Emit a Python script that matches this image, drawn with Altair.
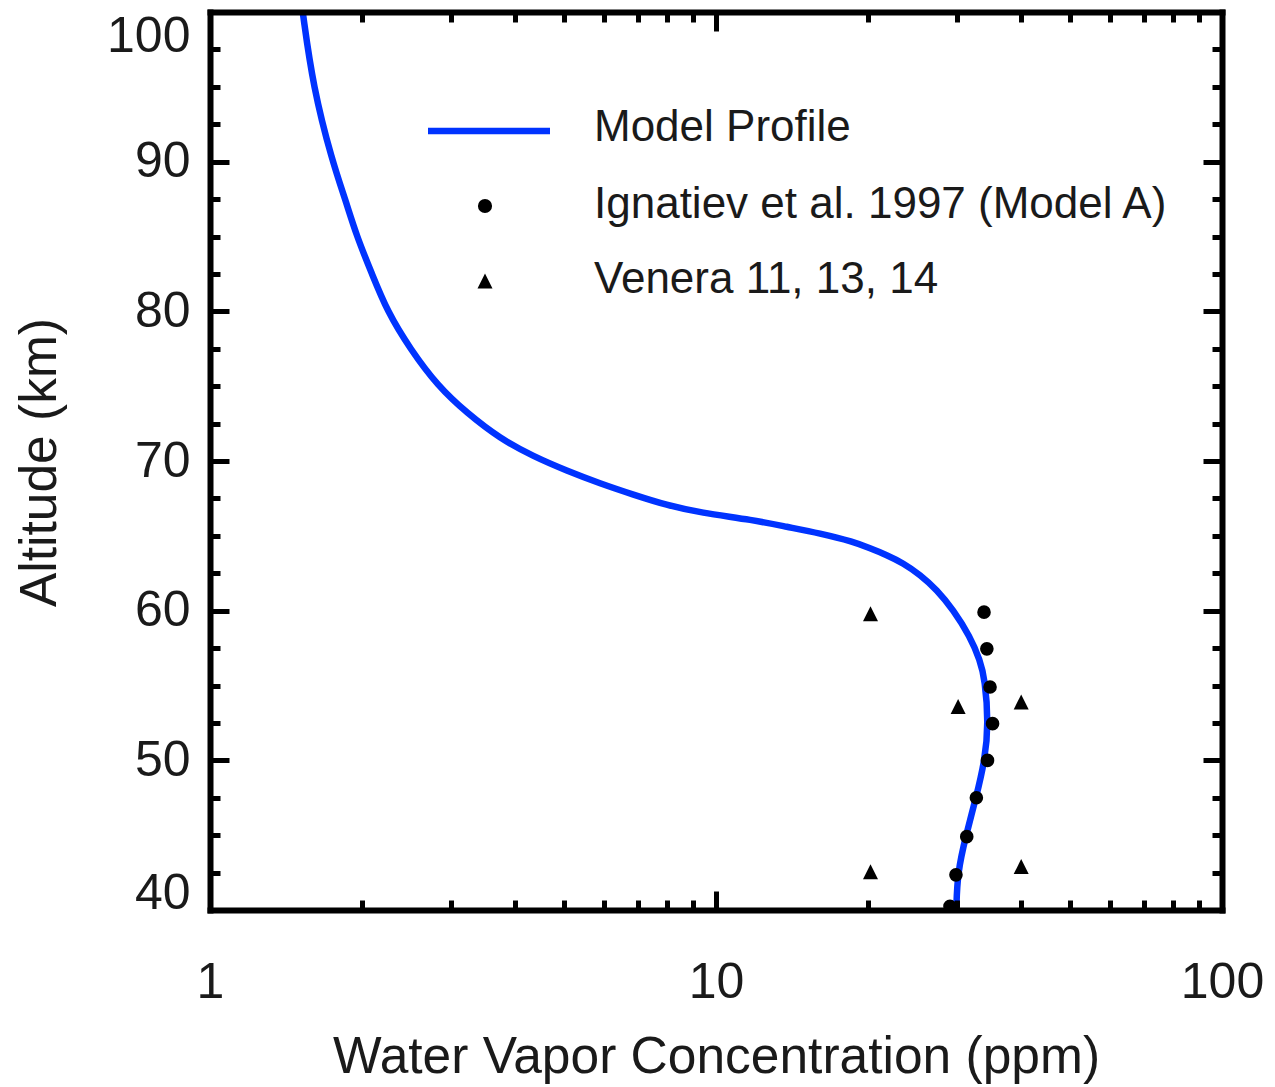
import altair as alt
import pandas as pd

# ---- data ----
model_alt = [100, 95, 90, 87.5, 85, 82.5, 80, 77.5, 75, 73.2, 71.5, 70.3, 69.35, 68.5,
             67.75, 67.05, 66.55, 66.06, 65.6, 65.17, 64.6, 64.17, 63.72, 63.17, 62.4,
             61.4, 60.05, 58.27, 56.7, 55.4, 52.5, 50, 47.5, 45, 42.5, 40]
model_ppm = [1.525, 1.598, 1.745, 1.85, 1.95, 2.09, 2.24, 2.485, 2.82, 3.22, 3.74, 4.36,
             5.07, 5.90, 6.87, 7.99, 9.30, 11.85, 13.8, 16.05, 18.7, 20.15, 21.74, 23.45,
             25.3, 27.3, 29.44, 31.77, 33.25, 34.0, 34.55, 34.0, 32.65, 31.2, 30.0, 29.85]

ign_alt = [59.9, 57.45, 54.9, 52.45, 50.0, 47.5, 44.9, 42.35, 40.25]
ign_ppm = [33.86, 34.3, 34.8, 35.2, 34.4, 32.7, 31.3, 29.8, 29.0]

ven_alt = [59.8, 53.6, 53.9, 42.55, 42.9]
ven_ppm = [20.2, 30.1, 40.1, 20.2, 40.1]

legend_labels = ["Model Profile", "Ignatiev et al. 1997 (Model A)", "Venera 11, 13, 14"]

x_major = [1, 10, 100]
x_minor = [2, 3, 4, 5, 6, 7, 8, 9, 20, 30, 40, 50, 60, 70, 80, 90]
y_major = [40, 50, 60, 70, 80, 90, 100]
y_minor = [42.5, 45, 47.5, 52.5, 55, 57.5, 62.5, 65, 67.5, 72.5, 75, 77.5,
           82.5, 85, 87.5, 92.5, 95, 97.5]

model_df = pd.DataFrame({"ppm": model_ppm, "alt": model_alt})
ign_df = pd.DataFrame({"ppm": ign_ppm, "alt": ign_alt})
ven_df = pd.DataFrame({"ppm": ven_ppm, "alt": ven_alt})

W, H = 1012, 898
FONT = "Liberation Sans"
BLUE = "#0033FF"
TXT = "#1a1a1a"
TRI = "M0,-1L1,1L-1,1Z"

xs = alt.Scale(type="log", domain=[1, 100], nice=False)
ys = alt.Scale(domain=[40, 100], nice=False, zero=False)


def tick_axis(orient, offset, values, size, domain=False):
    return alt.Axis(orient=orient, offset=offset, values=values, labels=False,
                    title=None, grid=False, ticks=True, tickSize=size, tickWidth=5,
                    tickColor="black", domain=domain, domainColor="black",
                    domainWidth=6, domainCap="square", zindex=1)


# Layer 1: model line with label axes (bottom and left)
x_lab = alt.Axis(orient="bottom", values=x_major, format="d", ticks=False, tickSize=0,
                 grid=False, domain=True, domainColor="black", domainWidth=6,
                 domainCap="square", zindex=1,
                 labelFont=FONT, labelFontSize=50, labelColor=TXT, labelPadding=72,
                 labelBaseline="middle", labelAlign="center",
                 title="Water Vapor Concentration (ppm)", titleFont=FONT,
                 titleFontSize=51.5, titleFontWeight="normal", titleColor=TXT,
                 titleX=W / 2, titleY=147, titleAlign="center", titleBaseline="middle")
y_lab = alt.Axis(orient="left", values=y_major, format="d", ticks=False, tickSize=0,
                 grid=False, domain=True, domainColor="black", domainWidth=6,
                 domainCap="square", zindex=1,
                 labelFont=FONT, labelFontSize=50, labelColor=TXT, labelPadding=20,
                 labelOffset={"condition": [{"test": "datum.value == 100", "value": 24},
                                            {"test": "datum.value == 40", "value": -17}],
                              "value": 0},
                 title="Altitude (km)", titleFont=FONT, titleFontSize=51.5,
                 titleFontWeight="normal", titleColor=TXT, titleAngle=270,
                 titleX=-170, titleY=450, titleAlign="center", titleBaseline="middle")

line = alt.Chart(model_df).mark_line(color=BLUE, strokeWidth=6.5,
                                     interpolate="basis").encode(
    x=alt.X("ppm:Q", scale=xs, axis=x_lab),
    y=alt.Y("alt:Q", scale=ys, axis=y_lab),
    order=alt.Order("alt:Q", sort="descending"),
)

# Layer 2: Ignatiev circles + inward major ticks on bottom / left edges
circles = alt.Chart(ign_df).mark_point(shape="circle", filled=True, color="black",
                                       size=185, opacity=1).encode(
    x=alt.X("ppm:Q", scale=xs, axis=tick_axis("top", -H, x_major, 19)),
    y=alt.Y("alt:Q", scale=ys, axis=tick_axis("right", -W, y_major, 19)),
)

# Layer 3: Venera triangles + inward minor ticks on bottom / left edges
tris = alt.Chart(ven_df).mark_point(shape=TRI, filled=True, color="black",
                                    size=225, opacity=1).encode(
    x=alt.X("ppm:Q", scale=xs, axis=tick_axis("top", -H, x_minor, 10)),
    y=alt.Y("alt:Q", scale=ys, axis=tick_axis("right", -W, y_minor, 10)),
)

# Layer 4/5: top and right edges of the frame with inward ticks
frame_major = alt.Chart(ign_df).mark_point(opacity=0).encode(
    x=alt.X("ppm:Q", scale=xs, axis=tick_axis("bottom", -H, x_major, 19, domain=True)),
    y=alt.Y("alt:Q", scale=ys, axis=tick_axis("left", -W, y_major, 19, domain=True)),
)
frame_minor = alt.Chart(ign_df).mark_point(opacity=0).encode(
    x=alt.X("ppm:Q", scale=xs, axis=tick_axis("bottom", -H, x_minor, 10)),
    y=alt.Y("alt:Q", scale=ys, axis=tick_axis("left", -W, y_minor, 10)),
)

# Legend (decoration, placed inside the plot)
leg1 = pd.DataFrame({"label": [legend_labels[0]]})
leg2 = pd.DataFrame({"label": [legend_labels[1]]})
leg3 = pd.DataFrame({"label": [legend_labels[2]]})

leg_line = alt.Chart(leg1).mark_rule(color=BLUE, strokeWidth=6.5).encode(
    x=alt.value(218), x2=alt.value(340), y=alt.value(119))
leg_circle = alt.Chart(leg2).mark_point(shape="circle", filled=True, color="black",
                                        size=200, opacity=1).encode(
    x=alt.value(275), y=alt.value(194))
leg_tri = alt.Chart(leg3).mark_point(shape=TRI, filled=True, color="black",
                                     size=225, opacity=1).encode(
    x=alt.value(275), y=alt.value(269))


def leg_text(df, y):
    return alt.Chart(df).mark_text(align="left", baseline="middle", font=FONT,
                                   fontSize=44, color=TXT).encode(
        x=alt.value(384), y=alt.value(y), text="label:N")


chart = alt.layer(
    line, circles, tris, frame_major, frame_minor,
    leg_line, leg_circle, leg_tri,
    leg_text(leg1, 116), leg_text(leg2, 193), leg_text(leg3, 268),
).resolve_axis(x="independent", y="independent").properties(
    width=W, height=H,
    padding={"left": 210, "top": 12, "right": 53, "bottom": 177},
    autosize=alt.AutoSizeParams(type="none"),
    background="white",
).configure_view(stroke=None)

chart.save("out.html", embed_options={"renderer": "svg", "actions": False})
